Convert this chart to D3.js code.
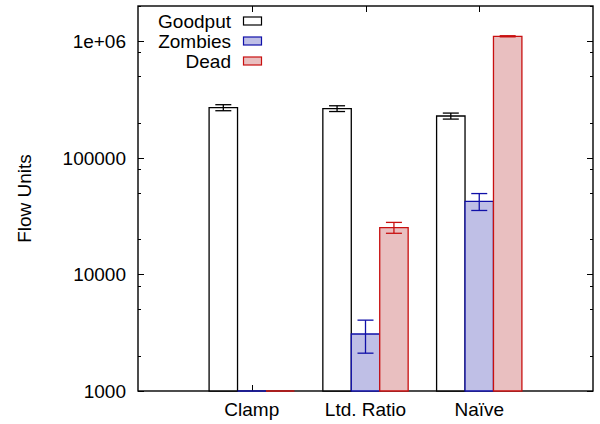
<!DOCTYPE html>
<html>
<head>
<meta charset="utf-8">
<script src="https://cdn.jsdelivr.net/npm/d3@7"></script>
<style>
  body { margin: 0; background: #fff; }
  text { font-family: "Liberation Sans", Arial, sans-serif; }
</style>
</head>
<body>
<div id="chart"></div>
<script>
// values
const categories = ["Clamp", "Ltd. Ratio", "Naïve"];
const seriesNames = ["Goodput", "Zombies", "Dead"];
const goodput = [269000, 264000, 228000];
const goodputErr = [16000, 15000, 13500];
const zombies = [600, 3080, 42300];
const zombiesErr = [0, 970, 7000];
const dead = [10, 25200, 1100000];
const deadErr = [0, 2700, 12000];
const yTickValues = [1000, 10000, 100000, 1000000];
const yTickLabels = ["1000", "10000", "100000", "1e+06"];
const minorSteps = [2, 5, 8];

function main() {
    const W = 600, H = 424;
    const left = 138, right = 593, top = 6, bottom = 391;
    const fontSize = "19px";

    const styles = [
        { fill: "#ffffff", stroke: "#000000" },
        { fill: "#bfbfe6", stroke: "#1010a8" },
        { fill: "#e9bfc0", stroke: "#c81010" }
    ];
    const series = [
        { name: seriesNames[0], values: goodput, errs: goodputErr },
        { name: seriesNames[1], values: zombies, errs: zombiesErr },
        { name: seriesNames[2], values: dead, errs: deadErr }
    ];

    var svg = d3.select("#chart").append("svg")
        .attr("width", W)
        .attr("height", H)

    var x = d3.scaleLinear().domain([-1, 3]).range([left, right]);
    var y = d3.scaleLog().domain([1000, 2e6]).range([bottom, top]).clamp(true);
    const barW = 0.25;

    // minor ticks (log)
    var minors = [];
    [1000, 10000, 100000, 1000000].forEach(function (d) {
        minorSteps.forEach(function (m) {
            if (d * m <= 2e6) minors.push(d * m);
        });
    });

    var ticks = svg.append("g").attr("stroke", "#000").attr("stroke-width", 1);
    yTickValues.forEach(function (v) {
        const yy = Math.round(y(v)) + 0.5;
        ticks.append("line").attr("x1", left).attr("x2", left + 6).attr("y1", yy).attr("y2", yy);
        ticks.append("line").attr("x1", right).attr("x2", right - 6).attr("y1", yy).attr("y2", yy);
    });
    minors.forEach(function (v) {
        const yy = Math.round(y(v)) + 0.5;
        ticks.append("line").attr("x1", left).attr("x2", left + 3).attr("y1", yy).attr("y2", yy);
        ticks.append("line").attr("x1", right).attr("x2", right - 3).attr("y1", yy).attr("y2", yy);
    });
    categories.forEach(function (c, i) {
        const xx = Math.round(x(i)) + 0.5;
        ticks.append("line").attr("x1", xx).attr("x2", xx).attr("y1", bottom).attr("y2", bottom - 6);
        ticks.append("line").attr("x1", xx).attr("x2", xx).attr("y1", top).attr("y2", top + 6);
    });

    // frame
    svg.append("rect")
        .attr("x", left).attr("y", top)
        .attr("width", right - left).attr("height", bottom - top)
        .attr("fill", "none")
        .attr("stroke", "#000")
        .attr("stroke-width", 1.4)

    // y tick labels
    svg.selectAll(".ylab")
        .data(yTickValues)
        .enter()
        .append("text")
        .attr("x", 126)
        .attr("y", function (d) { return y(d); })
        .attr("dy", "0.36em")
        .attr("text-anchor", "end")
        .attr("font-size", fontSize)
        .text(function (d, i) { return yTickLabels[i]; })

    // x tick labels
    svg.selectAll(".xlab")
        .data(categories)
        .enter()
        .append("text")
        .attr("x", function (d, i) { return x(i); })
        .attr("y", 416)
        .attr("text-anchor", "middle")
        .attr("font-size", fontSize)
        .text(function (d) { return d; })

    // y axis title
    svg.append("text")
        .text("Flow Units")
        .attr("transform", "translate(31," + ((top + bottom) / 2) + ") rotate(-90)")
        .attr("text-anchor", "middle")
        .attr("font-size", fontSize)

    // bars
    series.forEach(function (s, si) {
        var g = svg.append("g");
        g.selectAll("path")
            .data(s.values)
            .enter()
            .append("path")
            .attr("d", function (d, i) {
                const x0 = x(i + (si - 1) * barW - barW / 2);
                const x1 = x(i + (si - 1) * barW + barW / 2);
                const yt = y(d);
                return "M" + x0 + "," + bottom + "V" + yt + "H" + x1 + "V" + bottom + "Z";
            })
            .attr("fill", styles[si].fill)
            .attr("stroke", styles[si].stroke)
            .attr("stroke-width", 1.3)

        // error bars
        s.values.forEach(function (d, i) {
            const e = s.errs[i];
            if (e <= 0) return;
            const xc = x(i + (si - 1) * barW);
            const lo = y(Math.max(d - e, 1));
            const hi = y(d + e);
            const cap = 8;
            const eg = g.append("g").attr("stroke", styles[si].stroke).attr("stroke-width", 1.3);
            eg.append("line").attr("x1", xc).attr("x2", xc).attr("y1", lo).attr("y2", hi);
            if (hi < bottom) eg.append("line").attr("x1", xc - cap).attr("x2", xc + cap).attr("y1", hi).attr("y2", hi);
            if (lo < bottom) eg.append("line").attr("x1", xc - cap).attr("x2", xc + cap).attr("y1", lo).attr("y2", lo);
        });
    });

    // legend
    var legend = svg.append("g");
    series.forEach(function (s, si) {
        const cy = 21 + si * 20;
        legend.append("text")
            .attr("x", 231)
            .attr("y", cy)
            .attr("dy", "0.36em")
            .attr("text-anchor", "end")
            .attr("font-size", fontSize)
            .text(s.name)
        legend.append("rect")
            .attr("x", 243.5).attr("y", cy - 4)
            .attr("width", 18).attr("height", 8)
            .attr("fill", styles[si].fill)
            .attr("stroke", styles[si].stroke)
            .attr("stroke-width", 1.2)
    });
}
main();
</script>
</body>
</html>
